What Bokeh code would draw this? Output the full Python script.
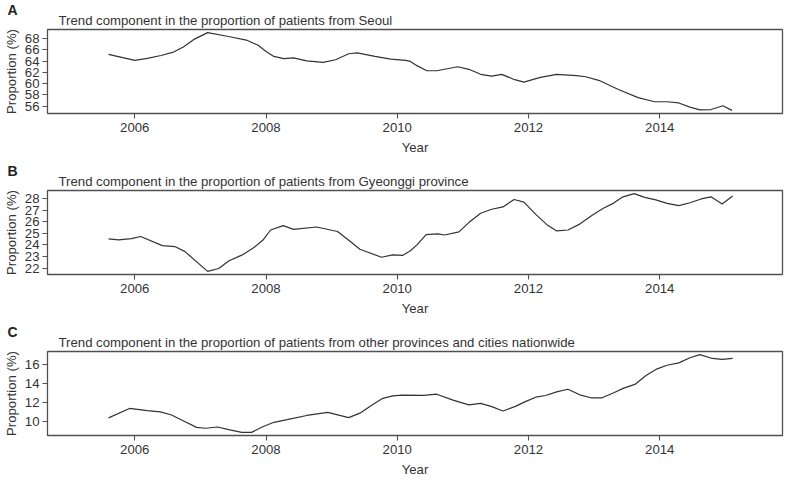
from bokeh.plotting import figure
from bokeh.layouts import column
from bokeh.models import Range1d, FixedTicker, Title
from bokeh.embed import file_html
from bokeh.resources import INLINE

# ---------------- data (decimal years, proportion %) ----------------
years_seoul = [2005.60, 2006.00, 2006.19, 2006.40, 2006.59, 2006.74, 2006.91, 2007.11, 2007.43,
               2007.70, 2007.88, 2008.00, 2008.12, 2008.27, 2008.42, 2008.62, 2008.87, 2009.06,
               2009.26, 2009.39, 2009.66, 2009.90, 2010.13, 2010.20, 2010.30, 2010.45, 2010.60,
               2010.92, 2011.09, 2011.27, 2011.44, 2011.59, 2011.79, 2011.93, 2012.18, 2012.43,
               2012.73, 2012.87, 2013.07, 2013.37, 2013.67, 2013.92, 2014.11, 2014.29, 2014.46,
               2014.61, 2014.78, 2014.96, 2015.10]
seoul = [65.2, 64.13, 64.5, 65.0, 65.6, 66.5, 67.9, 69.05, 68.36,
         67.73, 66.8, 65.7, 64.83, 64.45, 64.56, 64.03, 63.77, 64.24,
         65.3, 65.46, 64.83, 64.35, 64.13, 63.95, 63.2, 62.29, 62.29,
         63.0, 62.55, 61.66, 61.34, 61.66, 60.71, 60.28, 61.12, 61.66,
         61.44, 61.23, 60.6, 58.97, 57.54, 56.8, 56.8, 56.59, 55.85,
         55.37, 55.42, 56.1, 55.27]

years_gyeonggi = [2005.60, 2005.75, 2005.95, 2006.09, 2006.42, 2006.61, 2006.76, 2007.11, 2007.28,
                  2007.43, 2007.63, 2007.80, 2007.95, 2008.07, 2008.26, 2008.42, 2008.77, 2009.09,
                  2009.26, 2009.43, 2009.76, 2009.93, 2010.08, 2010.20, 2010.30, 2010.44, 2010.62,
                  2010.72, 2010.94, 2011.09, 2011.27, 2011.44, 2011.61, 2011.78, 2011.93, 2012.11,
                  2012.28, 2012.43, 2012.60, 2012.78, 2012.97, 2013.14, 2013.29, 2013.44, 2013.61,
                  2013.77, 2013.94, 2014.11, 2014.29, 2014.46, 2014.63, 2014.78, 2014.95, 2015.11]
gyeonggi = [24.52, 24.44, 24.55, 24.73, 23.94, 23.86, 23.45, 21.72, 21.97,
            22.61, 23.12, 23.71, 24.40, 25.29, 25.67, 25.34, 25.55, 25.16,
            24.40, 23.63, 22.94, 23.14, 23.10, 23.50, 24.01, 24.90, 24.96,
            24.86, 25.13, 25.93, 26.74, 27.08, 27.28, 27.92, 27.69, 26.64,
            25.75, 25.21, 25.29, 25.80, 26.57, 27.16, 27.59, 28.15, 28.43,
            28.10, 27.89, 27.59, 27.39, 27.64, 27.97, 28.15, 27.54, 28.23]

years_other = [2005.60, 2005.92, 2006.19, 2006.39, 2006.56, 2006.76, 2006.94, 2007.08, 2007.26,
               2007.43, 2007.63, 2007.78, 2007.95, 2008.12, 2008.32, 2008.62, 2008.94, 2009.26,
               2009.43, 2009.61, 2009.78, 2009.93, 2010.08, 2010.40, 2010.60, 2010.85, 2011.09,
               2011.27, 2011.44, 2011.61, 2011.79, 2011.96, 2012.11, 2012.26, 2012.43, 2012.60,
               2012.78, 2012.95, 2013.12, 2013.30, 2013.44, 2013.62, 2013.79, 2013.96, 2014.11,
               2014.29, 2014.46, 2014.61, 2014.80, 2014.95, 2015.11]
other = [10.40, 11.38, 11.16, 11.02, 10.70, 10.03, 9.41, 9.32, 9.45,
         9.17, 8.89, 8.89, 9.47, 9.94, 10.21, 10.65, 10.98, 10.42,
         10.89, 11.72, 12.43, 12.68, 12.77, 12.73, 12.86, 12.24, 11.75,
         11.90, 11.57, 11.11, 11.57, 12.12, 12.55, 12.73, 13.10, 13.38,
         12.80, 12.49, 12.49, 13.01, 13.47, 13.88, 14.80, 15.50, 15.87,
         16.12, 16.65, 16.98, 16.58, 16.49, 16.58]

x_ticks = [2006, 2008, 2010, 2012, 2014]
x_limits = [2004.67, 2015.87]
y_ticks_seoul = [56, 58, 60, 62, 64, 66, 68]
y_ticks_gyeonggi = [22, 23, 24, 25, 26, 27, 28]
y_ticks_other = [10, 12, 14, 16]

letters = ["A", "B", "C"]
titles = ["Trend component in the proportion of patients from Seoul",
          "Trend component in the proportion of patients from Gyeonggi province",
          "Trend component in the proportion of patients from other provinces and cities nationwide"]

# ---------------- styling ----------------
FONT = "Liberation Sans"
TXT = "#333333"
FS = "13.2px"
W = 784
TOP, FRAME_H, LEFT = 29, 84, 42


def panel(letter, title, xs, ys, yticks, height):
    r = max(ys) - min(ys)
    bottom = height - TOP - FRAME_H
    p = figure(width=W, height=height, output_backend="svg", toolbar_location=None, tools="",
               title=None,
               x_range=Range1d(*x_limits),
               y_range=Range1d(min(ys) - 0.04 * r, max(ys) + 0.04 * r),
               min_border_left=LEFT, min_border_right=2,
               min_border_top=TOP, min_border_bottom=bottom)
    # long title (inner), then the panel letter (outer, pulled down with a negative standoff)
    p.add_layout(Title(text=title, align="left", offset=11, standoff=3,
                       text_font=FONT, text_font_size=FS, text_font_style="normal",
                       text_color=TXT), "above")
    p.add_layout(Title(text=letter, align="left", offset=-LEFT + 2, standoff=-17,
                       text_font=FONT, text_font_size="14px", text_font_style="bold",
                       text_color="#222222"), "above")

    p.line(xs, ys, line_color="#333333", line_width=1.2)

    p.grid.visible = False
    p.outline_line_color = "#505050"
    p.outline_line_width = 1.3
    p.outline_line_alpha = 1.0
    p.background_fill_color = "white"
    p.border_fill_color = "white"

    p.xaxis.ticker = FixedTicker(ticks=x_ticks)
    p.yaxis.ticker = FixedTicker(ticks=yticks)
    p.xaxis.axis_label = "Year"
    p.yaxis.axis_label = "Proportion (%)"
    for ax in (p.xaxis, p.yaxis):
        ax.axis_line_color = None
        ax.major_tick_in = 0
        ax.major_tick_out = 5
        ax.major_tick_line_color = "#505050"
        ax.major_tick_line_width = 1.1
        ax.minor_tick_line_color = None
        ax.major_label_text_font = FONT
        ax.major_label_text_font_size = FS
        ax.major_label_text_color = TXT
        ax.axis_label_text_font = FONT
        ax.axis_label_text_font_size = FS
        ax.axis_label_text_font_style = "normal"
        ax.axis_label_text_color = TXT
    p.xaxis.major_label_standoff = 4
    p.xaxis.axis_label_standoff = 5
    p.yaxis.major_label_standoff = 3
    p.yaxis.axis_label_standoff = 3
    return p


pa = panel(letters[0], titles[0], years_seoul, seoul, y_ticks_seoul, 161)
pb = panel(letters[1], titles[1], years_gyeonggi, gyeonggi, y_ticks_gyeonggi, 161)
pc = panel(letters[2], titles[2], years_other, other, y_ticks_other, 162)

layout = column(pa, pb, pc, spacing=0)

open("out.html", "w").write(file_html(layout, INLINE))
